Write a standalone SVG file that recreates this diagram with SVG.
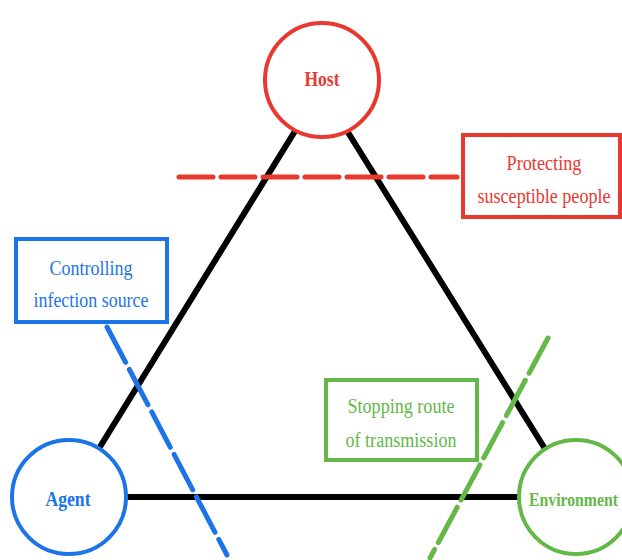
<svg xmlns="http://www.w3.org/2000/svg" width="622" height="560" viewBox="0 0 622 560">
<style>
.edge{stroke:#000;stroke-width:6;fill:none}
.node{fill:#fff;stroke-width:4}
.lbl{font-family:"Liberation Serif",serif;font-weight:bold;font-size:20px;text-anchor:middle}
.txt{font-family:"Liberation Serif",serif;font-size:20px;text-anchor:middle}
.box{fill:#fff;stroke-width:4}
.cut{stroke-width:5;stroke-linecap:round;fill:none}
.red{stroke:#E8392F}.blue{stroke:#1C75E8}.green{stroke:#64B848}
.tred{fill:#E8392F}.tblue{fill:#1C75E8}.tgreen{fill:#64B848}
</style>
<rect width="622" height="560" fill="#fff"/>
<g id="connectors">
<line class="edge" x1="321" y1="89" x2="69" y2="497"/>
<line class="edge" x1="321" y1="89" x2="575" y2="497"/>
<line class="edge" x1="69" y1="497" x2="575" y2="497"/>
</g>
<g id="host">
<circle class="node red" cx="322" cy="80" r="57"/>
<text class="lbl tred" x="322" y="86" textLength="35" lengthAdjust="spacingAndGlyphs">Host</text>
</g>
<g id="agent">
<circle class="node blue" cx="69" cy="497" r="57"/>
<text class="lbl tblue" x="68" y="506" textLength="45" lengthAdjust="spacingAndGlyphs">Agent</text>
</g>
<g id="environment">
<circle class="node green" cx="576" cy="497" r="57"/>
<text class="lbl tgreen" x="529" y="506" style="text-anchor:start;font-size:18px" textLength="89" lengthAdjust="spacingAndGlyphs">Environment</text>
</g>
<g id="protecting">
<line class="cut red" x1="179" y1="177" x2="457" y2="177" stroke-dasharray="34 8"/>
<rect class="box red" x="463" y="135" width="157" height="82"/>
<text class="txt tred" x="544" y="170" textLength="75" lengthAdjust="spacingAndGlyphs">Protecting</text>
<text class="txt tred" x="544" y="203" textLength="133" lengthAdjust="spacingAndGlyphs">susceptible people</text>
</g>
<g id="controlling">
<line class="cut blue" x1="107" y1="327" x2="227" y2="555" stroke-dasharray="40 8"/>
<rect class="box blue" x="16" y="239" width="151" height="83"/>
<text class="txt tblue" x="91" y="275" textLength="83" lengthAdjust="spacingAndGlyphs">Controlling</text>
<text class="txt tblue" x="91" y="307" textLength="115" lengthAdjust="spacingAndGlyphs">infection source</text>
</g>
<g id="stopping">
<line class="cut green" x1="548" y1="338" x2="430" y2="558" stroke-dasharray="40 8"/>
<rect class="box green" x="326" y="380" width="151" height="80"/>
<text class="txt tgreen" x="401" y="413" textLength="107" lengthAdjust="spacingAndGlyphs">Stopping route</text>
<text class="txt tgreen" x="401" y="447" textLength="111" lengthAdjust="spacingAndGlyphs">of transmission</text>
</g>
</svg>
